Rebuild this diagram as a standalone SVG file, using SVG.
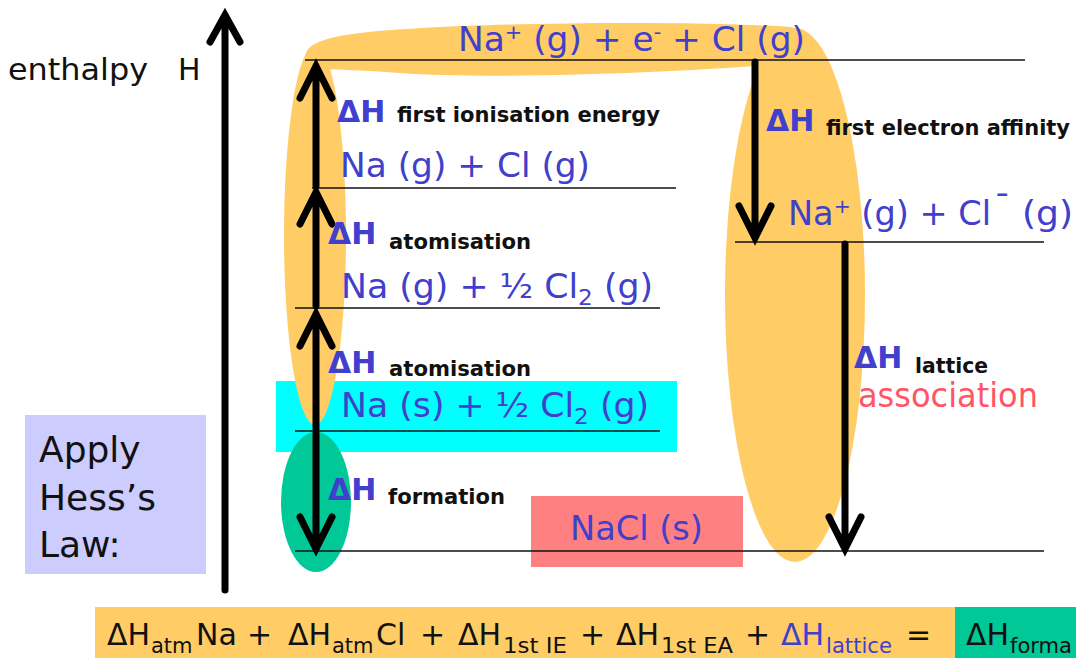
<svg xmlns="http://www.w3.org/2000/svg" width="1076" height="658" viewBox="0 0 1076 658">
<defs>
<style>
.st{font-family:"DejaVu Sans","Verdana",sans-serif;font-size:33px;fill:#4040CC}
.dh{font-family:"DejaVu Sans",sans-serif;font-size:30px;font-weight:bold;fill:#4040CC}
.lb{font-family:"DejaVu Sans",sans-serif;font-size:21px;font-weight:bold;fill:#111}
.bk{font-family:"DejaVu Sans",sans-serif;fill:#111}
.lvl{stroke:#111;stroke-width:1.6;fill:none}
.arr{stroke:#000;stroke-width:7;fill:none;stroke-linecap:round;stroke-linejoin:miter}
.eq{font-family:"DejaVu Sans",sans-serif;font-size:30px;fill:#111}
.sub{font-size:21px}
</style>
</defs>
<rect width="1076" height="658" fill="#fff"/>

<g id="highlights">
<rect id="cyan-box" x="276" y="381" width="401" height="71" fill="#00FFFF"/>
<ellipse id="orange-right" cx="795" cy="295" rx="70" ry="267" fill="#FFCC66"/>
<path id="orange-top" d="M305,60 C304,46 318,38 360,33 C450,22 700,20 790,27 C820,31 822,58 790,63 C700,72 500,80 400,73 C340,68 306,72 305,60 Z" fill="#FFCC66"/>
<ellipse id="orange-left" cx="315" cy="235" rx="31" ry="190" fill="#FFCC66"/>
<ellipse id="green-formation" cx="316" cy="502" rx="35" ry="70" fill="#00C896"/>
<rect id="red-box" x="531" y="496" width="212" height="71" fill="#FF8080"/>
</g>

<g id="apply-box">
<rect x="25" y="415" width="181" height="159" fill="#CCCCFF"/>
<text class="bk" font-size="36" x="39" y="462">Apply</text>
<text class="bk" font-size="36" x="39" y="510">Hess’s</text>
<text class="bk" font-size="36" x="39" y="557">Law:</text>
</g>

<g id="axis">
<path class="arr" d="M225,590 L225,16 M210,42 L225,15 L240,42"/>
<text class="bk" font-size="30" x="8" y="80" textLength="140" lengthAdjust="spacingAndGlyphs">enthalpy</text>
<text class="bk" font-size="30" x="178" y="80">H</text>
</g>

<g id="levels">
<g id="level-top">
<line class="lvl" x1="305" y1="60" x2="1025" y2="60"/>
<text class="st" x="458" y="51" textLength="347" lengthAdjust="spacingAndGlyphs">Na<tspan dy="-12" font-size="20">+</tspan><tspan dy="12"> (g) + e</tspan><tspan dy="-12" font-size="20">-</tspan><tspan dy="12"> + Cl (g)</tspan></text>
</g>
<g id="level-na-g-cl-g">
<line class="lvl" x1="312" y1="188" x2="676" y2="188"/>
<text class="st" x="340" y="177" textLength="250" lengthAdjust="spacingAndGlyphs">Na (g) + Cl (g)</text>
</g>
<g id="level-na-g-half-cl2">
<line class="lvl" x1="295" y1="308" x2="660" y2="308"/>
<text class="st" x="341" y="298" textLength="312" lengthAdjust="spacingAndGlyphs">Na (g) + ½ Cl<tspan dy="7" font-size="22">2</tspan><tspan dy="-7"> (g)</tspan></text>
</g>
<g id="level-na-s-half-cl2">
<line class="lvl" x1="295" y1="431" x2="660" y2="431"/>
<text class="st" x="341" y="417" textLength="308" lengthAdjust="spacingAndGlyphs">Na (s) + ½ Cl<tspan dy="7" font-size="22">2</tspan><tspan dy="-7"> (g)</tspan></text>
</g>
<g id="level-ions">
<line class="lvl" x1="735" y1="242" x2="1044" y2="242"/>
<text class="st" x="788" y="225" textLength="203" lengthAdjust="spacingAndGlyphs">Na<tspan dy="-12" font-size="20">+</tspan><tspan dy="12"> (g) + Cl</tspan></text>
<text class="st" x="994" y="219" font-size="28">¯</text>
<text class="st" x="1022" y="225" textLength="51" lengthAdjust="spacingAndGlyphs">(g)</text>
</g>
<g id="level-nacl">
<line class="lvl" x1="295" y1="551" x2="1044" y2="551"/>
<text class="st" x="570" y="540" textLength="133" lengthAdjust="spacingAndGlyphs">NaCl (s)</text>
</g>
</g>

<g id="connectors">
<g id="ie-arrow">
<path class="arr" d="M316,186 L316,66 M300,98 L316,66 L332,98"/>
<text class="dh" x="337" y="122">ΔH</text>
<text class="lb" x="397" y="122" textLength="263" lengthAdjust="spacingAndGlyphs">first ionisation energy</text>
</g>
<g id="atom1-arrow">
<path class="arr" d="M316,306 L316,192 M300,224 L316,192 L332,224"/>
<text class="dh" x="328" y="244">ΔH</text>
<text class="lb" x="389" y="249" textLength="142" lengthAdjust="spacingAndGlyphs">atomisation</text>
</g>
<g id="atom2-arrow">
<path class="arr" d="M316,429 L316,314 M300,346 L316,314 L332,346"/>
<text class="dh" x="328" y="373">ΔH</text>
<text class="lb" x="389" y="376" textLength="142" lengthAdjust="spacingAndGlyphs">atomisation</text>
</g>
<g id="formation-arrow">
<path class="arr" d="M316,433 L316,547 M300,517 L316,549 L332,517"/>
<text class="dh" x="328" y="500">ΔH</text>
<text class="lb" x="388" y="504" textLength="117" lengthAdjust="spacingAndGlyphs">formation</text>
</g>
<g id="ea-arrow">
<path class="arr" d="M755,62 L755,236 M739,206 L755,238 L771,206"/>
<text class="dh" x="766" y="131">ΔH</text>
<text class="lb" x="826" y="135" textLength="244" lengthAdjust="spacingAndGlyphs">first electron affinity</text>
</g>
<g id="lattice-arrow">
<path class="arr" d="M845,244 L845,547 M829,517 L845,549 L861,517"/>
<text class="dh" x="854" y="368">ΔH</text>
<text class="lb" x="915" y="373" textLength="73" lengthAdjust="spacingAndGlyphs">lattice</text>
<text class="st" x="858" y="407" style="fill:#FF5566" textLength="180" lengthAdjust="spacingAndGlyphs">association</text>
</g>
</g>

<g id="equation">
<rect x="95" y="607" width="860" height="51" fill="#FFCC66"/>
<rect x="955" y="607" width="121" height="51" fill="#00C896"/>
<text class="eq" y="645"><tspan x="107">ΔH</tspan><tspan class="sub" x="151" y="653">atm</tspan><tspan x="196" y="645">Na</tspan><tspan x="247">+</tspan><tspan x="288">ΔH</tspan><tspan class="sub" x="332" y="653">atm</tspan><tspan x="376" y="645">Cl</tspan><tspan x="420">+</tspan><tspan x="458">ΔH</tspan><tspan class="sub" x="503" y="653" textLength="64" lengthAdjust="spacingAndGlyphs">1st IE</tspan><tspan x="580" y="645">+</tspan><tspan x="616">ΔH</tspan><tspan class="sub" x="661" y="653" textLength="72" lengthAdjust="spacingAndGlyphs">1st EA</tspan><tspan x="745" y="645">+</tspan><tspan x="781" fill="#4040CC">ΔH</tspan><tspan class="sub" x="826" y="653" fill="#4040CC" textLength="66" lengthAdjust="spacingAndGlyphs">lattice</tspan><tspan x="906" y="645">=</tspan><tspan x="966">ΔH</tspan><tspan class="sub" x="1010" y="653" textLength="62" lengthAdjust="spacingAndGlyphs">forma</tspan></text>
</g>
</svg>
